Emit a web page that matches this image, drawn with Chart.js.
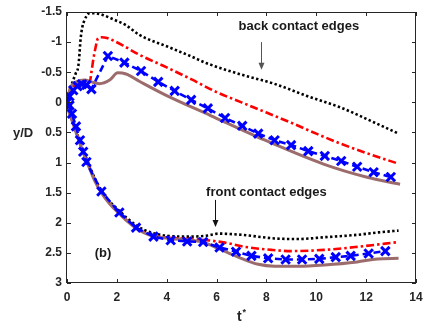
<!DOCTYPE html>
<html>
<head>
<meta charset="utf-8">
<script src="https://cdn.jsdelivr.net/npm/chart.js@4.4.1/dist/chart.umd.min.js"></script>
<style>
html, body { margin: 0; padding: 0; background: #fff; }
canvas { display: block; }
</style>
</head>
<body>
<canvas id="chart" width="425" height="327"></canvas>
<script>
// axis ticks
const xTicks = [0, 2, 4, 6, 8, 10, 12, 14];
const yTicks = [-1.5, -1, -0.5, 0, 0.5, 1, 1.5, 2, 2.5, 3];
const yTickLabels = ['-1.5', '-1', '-0.5', '0', '0.5', '1', '1.5', '2', '2.5', '3'];

// black dotted - back / front contact edges
const tBlackBack = [0, 0.05, 0.15, 0.25, 0.35, 0.45, 0.5, 0.54, 0.62, 0.7, 0.78, 0.9, 1.1, 1.44, 1.9, 2.37, 2.9, 4, 5, 5.6, 7, 8.3, 9.6, 11, 12.3, 13.3];
const yBlackBack = [0, -0.09, -0.25, -0.37, -0.48, -0.59, -0.8, -1.03, -1.26, -1.36, -1.43, -1.48, -1.48, -1.45, -1.37, -1.28, -1.12, -0.93, -0.76, -0.65, -0.46, -0.31, -0.11, 0.09, 0.33, 0.52];
const tBlackFront = [0, 0.05, 0.2, 0.38, 0.6, 0.85, 1.1, 1.38, 1.7, 2.1, 2.4, 2.77, 3.1, 3.43, 4.09, 5.0, 5.68, 6.08, 7.0, 8.33, 9.26, 10.32, 11.64, 12.5, 13.3];
const yBlackFront = [0, 0.1, 0.27, 0.49, 0.75, 1.0, 1.25, 1.46, 1.64, 1.8, 1.92, 2.04, 2.12, 2.17, 2.22, 2.23, 2.21, 2.18, 2.2, 2.26, 2.27, 2.24, 2.2, 2.16, 2.13];

// red dash-dot
const tRedBack = [0, 0.1, 0.2, 0.35, 0.5, 0.7, 0.91, 0.98, 1.05, 1.15, 1.24, 1.38, 1.6, 1.84, 2.3, 2.9, 4, 5, 6, 7, 8, 9, 10, 11, 12, 13.3];
const yRedBack = [0, -0.15, -0.24, -0.29, -0.31, -0.31, -0.33, -0.5, -0.7, -0.92, -1.06, -1.08, -1.07, -1.03, -0.93, -0.79, -0.58, -0.38, -0.17, 0.0, 0.17, 0.34, 0.52, 0.69, 0.84, 1.02];
const tRedFront = [0, 0.05, 0.2, 0.38, 0.6, 0.85, 1.1, 1.38, 1.7, 2.1, 2.4, 2.77, 3.1, 3.43, 4.09, 5.0, 5.4, 6.34, 7.14, 8.2, 9.0, 10.32, 11.64, 13.3];
const yRedFront = [0, 0.11, 0.29, 0.51, 0.77, 1.03, 1.28, 1.49, 1.67, 1.84, 1.96, 2.08, 2.16, 2.21, 2.25, 2.27, 2.28, 2.33, 2.4, 2.45, 2.47, 2.45, 2.4, 2.32];

// blue dashed with x markers
const tBlueBack = [0, 0.1, 0.25, 0.42, 0.6, 0.78, 0.98, 1.64, 2.30, 2.97, 3.66, 4.32, 4.98, 5.65, 6.34, 7.03, 7.67, 8.33, 8.99, 9.68, 10.34, 11.0, 11.64, 12.30, 12.99];
const yBlueBack = [0, -0.1, -0.2, -0.27, -0.30, -0.29, -0.22, -0.77, -0.66, -0.52, -0.34, -0.19, -0.04, 0.10, 0.26, 0.39, 0.52, 0.63, 0.71, 0.81, 0.89, 0.975, 1.07, 1.16, 1.24];
const tBlueFront = [0.1, 0.2, 0.36, 0.52, 0.65, 0.78, 1.38, 2.1, 2.77, 3.47, 4.16, 4.82, 5.46, 6.12, 6.78, 7.40, 8.07, 8.77, 9.43, 10.12, 10.78, 11.38, 12.1, 12.77];
const yBlueFront = [0.05, 0.19, 0.4, 0.63, 0.82, 0.99, 1.48, 1.83, 2.08, 2.23, 2.29, 2.31, 2.32, 2.41, 2.48, 2.55, 2.59, 2.61, 2.61, 2.60, 2.57, 2.55, 2.51, 2.47];

// brown solid
const tBrownBack = [0, 0.12, 0.38, 0.72, 0.98, 1.31, 1.71, 2.04, 2.37, 2.9, 3.96, 5.76, 7.67, 10.32, 12, 13.36];
const yBrownBack = [0, -0.23, -0.34, -0.37, -0.34, -0.31, -0.37, -0.49, -0.47, -0.35, -0.12, 0.22, 0.58, 1.03, 1.24, 1.36];
const tBrownFront = [0, 0.05, 0.2, 0.38, 0.6, 0.85, 1.1, 1.38, 1.7, 2.1, 2.4, 2.77, 3.1, 3.43, 4.09, 5.02, 5.5, 6.08, 6.87, 7.67, 8.33, 9.26, 10.32, 11.64, 12.44, 13.3];
const yBrownFront = [0, 0.12, 0.3, 0.52, 0.78, 1.04, 1.29, 1.5, 1.68, 1.85, 1.97, 2.09, 2.17, 2.22, 2.26, 2.29, 2.33, 2.43, 2.57, 2.69, 2.72, 2.72, 2.70, 2.65, 2.60, 2.59];

const FONT = '"Liberation Sans", Arial, sans-serif';
const pts = (ts, ys) => ts.map((t, i) => ({ x: t, y: ys[i] }));

function blackSet(ts, ys) {
    return { data: pts(ts, ys), borderColor: '#000', borderWidth: 2.6, borderDash: [2.4, 2.4],
        pointRadius: 0, cubicInterpolationMode: 'monotone', order: 4 };
}
function redSet(ts, ys) {
    return { data: pts(ts, ys), borderColor: '#ff0000', borderWidth: 2.6, borderDash: [8, 3, 2.5, 3],
        pointRadius: 0, cubicInterpolationMode: 'monotone', order: 3 };
}
function brownSet(ts, ys) {
    return { data: pts(ts, ys), borderColor: '#9c6b6b', borderWidth: 3,
        pointRadius: 0, cubicInterpolationMode: 'monotone', order: 2 };
}
function blueSet(ts, ys) {
    return { data: pts(ts, ys), borderColor: '#0000ff', borderWidth: 2.6, borderDash: [7, 4],
        pointStyle: 'crossRot', pointRadius: 6, pointBorderWidth: 3, pointBorderColor: '#0000ff',
        tension: 0, order: 1 };
}

const decorations = {
    id: 'decorations',
    afterDraw(chart) {
        const { ctx, chartArea: a, scales: { x, y } } = chart;
        ctx.save();

        // frame with inward ticks on all sides
        ctx.strokeStyle = '#262626';
        ctx.lineWidth = 1;
        ctx.strokeRect(a.left - 0.5, a.top + 0.5, a.right - a.left, a.bottom - a.top - 1);
        ctx.beginPath();
        xTicks.forEach(v => {
            const px = Math.round(x.getPixelForValue(v)) + 0.5;
            ctx.moveTo(px, a.bottom); ctx.lineTo(px, a.bottom - 4);
            ctx.moveTo(px, a.top); ctx.lineTo(px, a.top + 4);
        });
        yTicks.forEach(v => {
            const py = Math.round(y.getPixelForValue(v)) + 0.5;
            ctx.moveTo(a.left, py); ctx.lineTo(a.left + 4, py);
            ctx.moveTo(a.right, py); ctx.lineTo(a.right - 4, py);
        });
        ctx.stroke();

        // axis titles
        ctx.fillStyle = '#262626';
        ctx.textBaseline = 'alphabetic';
        ctx.textAlign = 'left';
        ctx.font = 'bold 13px ' + FONT;
        ctx.fillText('y/D', 13, 137);
        ctx.font = 'bold 14px ' + FONT;
        ctx.fillText('t', 237, 321);
        ctx.font = 'bold 9px ' + FONT;
        ctx.fillText('*', 242.5, 315);

        // annotations
        ctx.fillStyle = '#1a1a1a';
        ctx.font = 'bold 13px ' + FONT;
        ctx.textAlign = 'center';
        ctx.fillText('back contact edges', x.getPixelForValue(9.3), y.getPixelForValue(-1.2));
        ctx.fillText('front contact edges', x.getPixelForValue(8.0), y.getPixelForValue(1.556));
        ctx.textAlign = 'left';
        ctx.fillText('(b)', x.getPixelForValue(1.11), y.getPixelForValue(2.57));

        const arrow = (t, y1, y2, color) => {
            const px = Math.round(x.getPixelForValue(t)) + 0.5;
            const p1 = y.getPixelForValue(y1), p2 = y.getPixelForValue(y2);
            ctx.strokeStyle = color;
            ctx.fillStyle = color;
            ctx.lineWidth = 1;
            ctx.beginPath();
            ctx.moveTo(px, p1); ctx.lineTo(px, p2 - 5);
            ctx.stroke();
            ctx.beginPath();
            ctx.moveTo(px - 3, p2 - 7); ctx.lineTo(px + 3, p2 - 7); ctx.lineTo(px, p2);
            ctx.closePath();
            ctx.fill();
        };
        arrow(7.8, -1.0, -0.54, '#555555');
        arrow(5.95, 1.62, 2.07, '#111111');

        ctx.restore();
    }
};

const tickFont = { family: FONT, size: 12, weight: 'bold' };

new Chart(document.getElementById('chart'), {
    type: 'line',
    data: {
        datasets: [
            blackSet(tBlackBack, yBlackBack), blackSet(tBlackFront, yBlackFront),
            redSet(tRedBack, yRedBack), redSet(tRedFront, yRedFront),
            brownSet(tBrownBack, yBrownBack), brownSet(tBrownFront, yBrownFront),
            blueSet(tBlueBack, yBlueBack), blueSet(tBlueFront, yBlueFront)
        ]
    },
    options: {
        responsive: false,
        animation: false,
        devicePixelRatio: 1,
        layout: { padding: { top: 12, right: 6, left: 0, bottom: 0 } },
        plugins: { legend: { display: false }, tooltip: { enabled: false } },
        scales: {
            x: {
                type: 'linear', min: 0, max: 14,
                grid: { display: false, drawTicks: false },
                border: { display: false },
                afterBuildTicks: s => { s.ticks = xTicks.map(v => ({ value: v })); },
                afterFit: s => { s.height = 44; s.paddingLeft = 0; s.paddingRight = 0; },
                ticks: { font: tickFont, color: '#262626', padding: 7, maxRotation: 0, autoSkip: false }
            },
            y: {
                type: 'linear', min: -1.5, max: 3, reverse: true,
                grid: { display: false, drawTicks: false },
                border: { display: false },
                afterBuildTicks: s => { s.ticks = yTicks.map(v => ({ value: v })); },
                afterFit: s => { s.width = 67; s.paddingTop = 0; s.paddingBottom = 0; },
                ticks: { font: tickFont, color: '#262626', padding: 5, autoSkip: false,
                    callback: (v, i) => yTickLabels[i] }
            }
        }
    },
    plugins: [decorations]
});
</script>
</body>
</html>
